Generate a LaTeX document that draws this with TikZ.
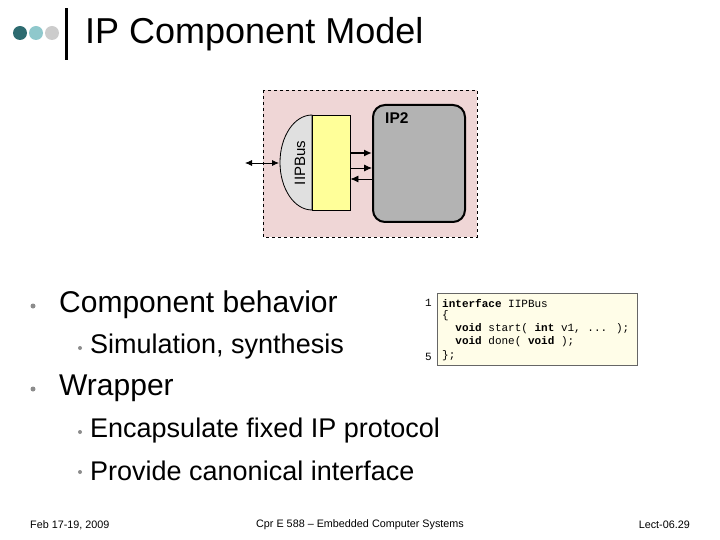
\documentclass[tikz,border=0pt]{standalone}
\usepackage{fontspec}
\setmainfont{Liberation Sans}
\newfontfamily\codefont{Liberation Mono}
\usetikzlibrary{arrows.meta}
\definecolor{tealdark}{HTML}{2D6B70}
\definecolor{teallight}{HTML}{8FC8CC}
\definecolor{wrapbg}{HTML}{EFD6D6}
\definecolor{ipgrey}{HTML}{B3B3B3}
\definecolor{busyellow}{HTML}{FFFF99}
\definecolor{codebg}{HTML}{FFFDE8}
\begin{document}
\begin{tikzpicture}[
    x=1pt, y=-1pt,
    dot/.style={circle, inner sep=0pt, minimum size=14pt},
    bdot/.style={circle, inner sep=0pt, fill=black!45, minimum size=#1},
    bullet/.style={anchor=west, inner sep=0pt, font=\fontsize{30}{34}\selectfont},
    subbullet/.style={anchor=west, inner sep=0pt, font=\fontsize{27}{30}\selectfont},
    code/.style={anchor=west, inner sep=0pt, font=\codefont\fontsize{11}{13}\selectfont},
    footer/.style={inner sep=0pt, font=\fontsize{10.8}{12}\selectfont},
    sig/.style={-{Latex[length=8pt,width=7pt]}, thick}
]
\useasboundingbox (0,0) rectangle (720,540);

% Title
\node[dot, fill=tealdark] (d1) at (20,33) {};
\node[dot, fill=teallight] (d2) at (36,33) {};
\node[dot, fill=black!20] (d3) at (52,33) {};
\fill (65,8) rectangle (68,60);
\node[anchor=west, inner sep=0pt, font=\fontsize{36}{40}\selectfont] (title) at (85,34) {IP Component Model};

% Wrapper
\draw[dashed, thick, fill=wrapbg] (263,90) rectangle (477,237);
\node[draw, line width=2pt, fill=ipgrey, rounded corners=12pt, minimum width=92pt, minimum height=117pt] (ip) at (419,163.5) {};
\node[anchor=north west, inner sep=0pt, font=\bfseries\fontsize{15.5}{17}\selectfont] (iplabel) at (385,112) {IP2};
\draw[thick, fill=black!12] (312,115) arc[start angle=270, end angle=90, x radius=32, y radius=47.5] -- cycle;
\node[draw, thick, fill=busyellow, minimum width=38pt, minimum height=95pt, inner sep=0pt] (bus) at (331,162.5) {};
\node[rotate=90, font=\fontsize{15}{17}\selectfont] (buslabel) at (300,163) {IIPBus};
\coordinate (ext) at (245,163);
\coordinate (busl) at (279,163);
\draw[{Latex[length=7pt,width=6pt]}-{Latex[length=7pt,width=6pt]}, thick] (ext) -- (busl);
\draw[sig, line width=2.2pt] (bus.east |- 0,153) -- (ip.west |- 0,153);
\draw[sig] (bus.east |- 0,168) -- (ip.west |- 0,168);
\draw[sig] (ip.west |- 0,179) -- (bus.east |- 0,179);

% Bullets
\node[bdot=5pt] (p1) at (33,306) {};
\node[bullet] (b1) at (59,305) {Component behavior};
\node[bdot=4pt] (p11) at (80,348) {};
\node[subbullet] (b11) at (90,347) {Simulation, synthesis};
\node[bdot=5pt] (p2) at (33,389) {};
\node[bullet] (b2) at (59,388) {Wrapper};
\node[bdot=4pt] (p21) at (80,432) {};
\node[subbullet] (b21) at (90,431) {Encapsulate fixed IP protocol};
\node[bdot=4pt] (p22) at (80,472) {};
\node[subbullet] (b22) at (90,471) {Provide canonical interface};

% Code
\draw[black!60, fill=codebg] (437,293) rectangle (637,365);
\node[code] (n1) at (425,303) {1};
\node[code] (n5) at (425,357) {5};
\node[code] (c1) at (442,303) {\textbf{interface} IIPBus};
\node[code] (c2) at (442,316) {\{};
\node[code] (c3) at (442,329) {\ \ \textbf{void} start( \textbf{int} v1, ... );};
\node[code] (c4) at (442,342) {\ \ \textbf{void} done( \textbf{void} );};
\node[code] (c5) at (442,356) {\};};

% Footer
\node[footer, anchor=west] (f1) at (30,525) {Feb 17-19, 2009};
\node[footer] (f2) at (360,525) {Cpr E 588 -- Embedded Computer Systems};
\node[footer, anchor=east] (f3) at (690,525) {Lect-06.29};
\end{tikzpicture}
\end{document}
